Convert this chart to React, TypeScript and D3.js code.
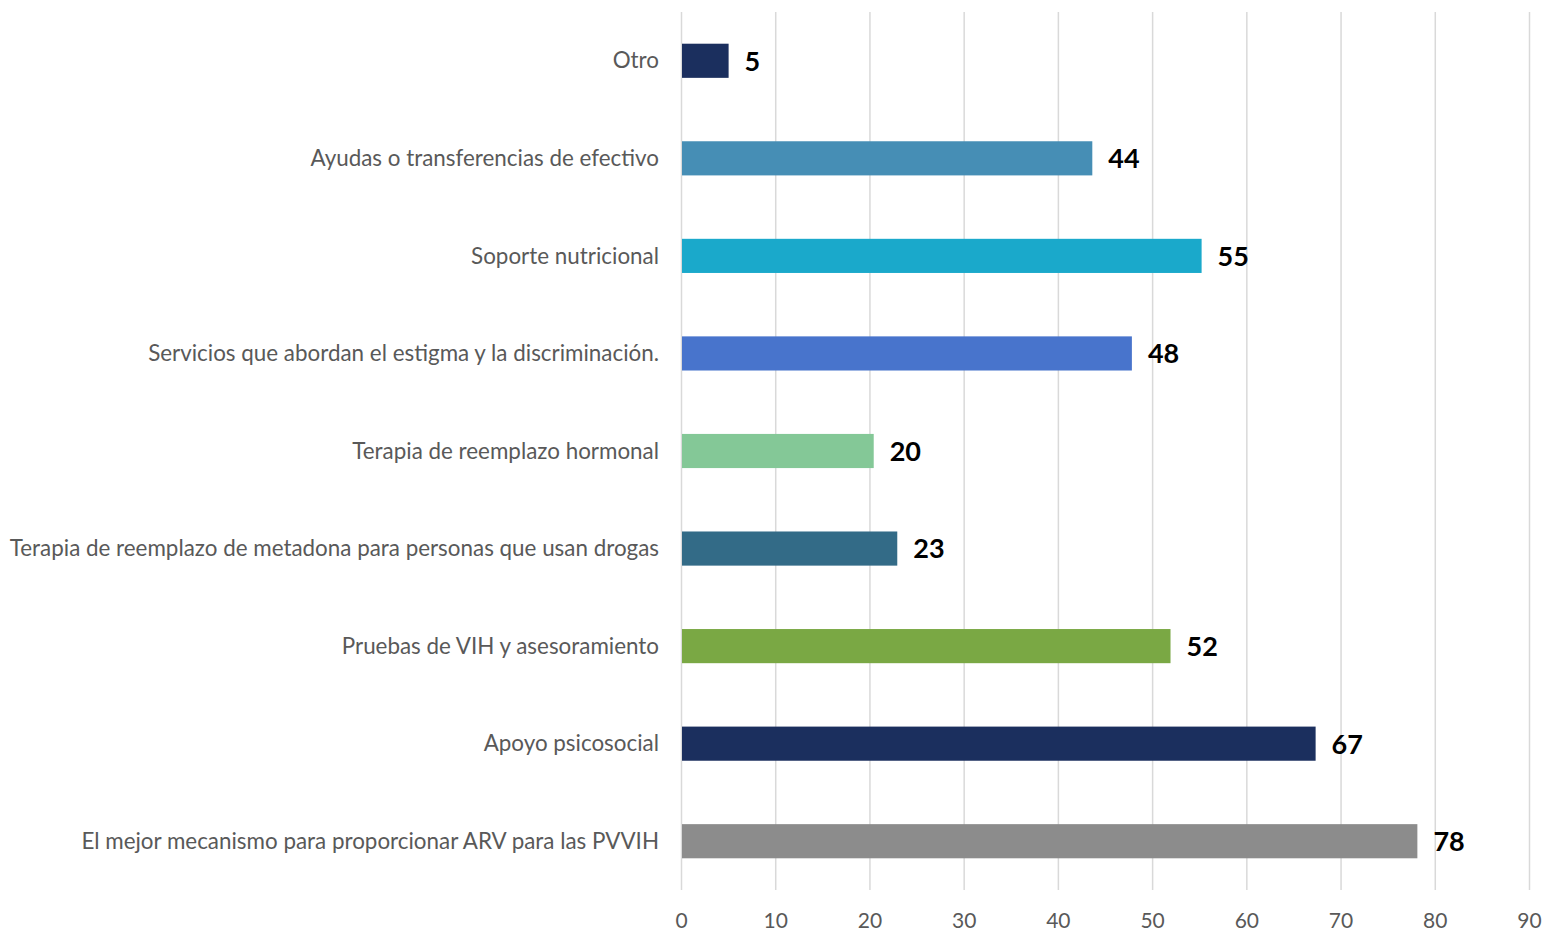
import React from "react";
import * as d3 from "d3";

const categories = [
  "Otro",
  "Ayudas o transferencias de efectivo",
  "Soporte nutricional",
  "Servicios que abordan el estigma y la discriminación.",
  "Terapia de reemplazo hormonal",
  "Terapia de reemplazo de metadona para personas que usan drogas",
  "Pruebas de VIH y asesoramiento",
  "Apoyo psicosocial",
  "El mejor mecanismo para proporcionar ARV para las PVVIH",
];
const values = [5.0, 43.6, 55.2, 47.8, 20.4, 22.9, 51.9, 67.3, 78.1];
const colors = [
  "#1b2f5e",
  "#468eb5",
  "#1aa9cb",
  "#4874cc",
  "#84c897",
  "#336b87",
  "#7aa844",
  "#1b2f5e",
  "#8c8c8c",
];
const ticks = [0, 10, 20, 30, 40, 50, 60, 70, 80, 90];

const W = 1545;
const H = 931;
const left = 681.5;
const right = 1529.5;
const top = 12;
const bottom = 890;

export default function App() {
  const x = d3.scaleLinear().domain([0, 90]).range([left, right]);
  const y = d3
    .scaleBand<string>()
    .domain(categories)
    .range([top, bottom])
    .paddingInner(0.65)
    .paddingOuter(0.325);
  const font = "Lato, 'Open Sans', sans-serif";
  const fmt = d3.format(".0f");
  return (
    <svg
      width={W}
      height={H}
      style={{ position: "absolute", left: 0, top: 0, display: "block", background: "#fff" }}
    >
      {ticks.map((t) => (
        <g key={t}>
          <line x1={x(t)} x2={x(t)} y1={top} y2={bottom} stroke="#d9d9d9" strokeWidth={1.5} />
          <text
            x={x(t)}
            y={923}
            textAnchor="middle"
            dominantBaseline="middle"
            fontFamily={font}
            fontSize={21}
            fill="#595959"
          >
            {t}
          </text>
        </g>
      ))}
      {categories.map((c, i) => {
        const yy = y(c)!;
        const bw = y.bandwidth();
        return (
          <g key={c}>
            <rect x={x(0) + 0.5} y={yy} width={x(values[i]) - x(0) - 0.5} height={bw} fill={colors[i]} />
            <text
              x={659}
              y={yy + bw / 2 + 2}
              textAnchor="end"
              dominantBaseline="middle"
              fontFamily={font}
              fontSize={22.4}
              fill="#595959"
            >
              {c}
            </text>
            <text
              x={x(values[i]) + 16}
              y={yy + bw / 2 + 3}
              dominantBaseline="middle"
              fontFamily={font}
              fontSize={27}
              fontWeight="bold"
              fill="#000"
            >
              {fmt(values[i])}
            </text>
          </g>
        );
      })}
    </svg>
  );
}
